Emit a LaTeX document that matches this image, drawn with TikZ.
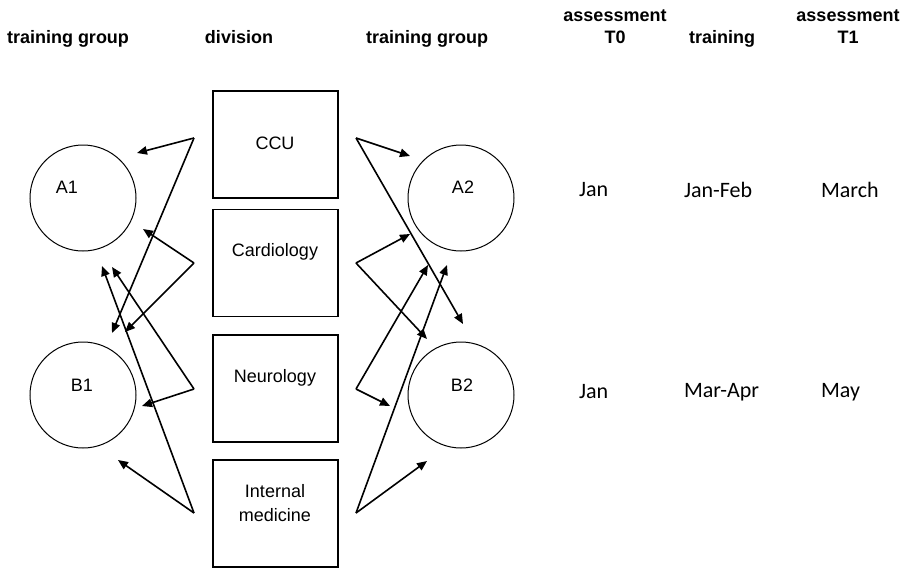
\documentclass[tikz,border=0pt]{standalone}
\usepackage{fontspec}
\setmainfont{Liberation Sans}
\newfontfamily\calibri{Carlito}
\usetikzlibrary{arrows.meta}

\begin{document}
\begin{tikzpicture}[x=0.5pt, y=-0.5pt, >={Triangle[length=5pt,width=4.2pt]},
		font=\fontsize{9}{12}\selectfont,
		head/.style={font=\fontsize{9}{11}\selectfont\bfseries, align=center, anchor=base},
		division/.style={draw, line width=0.6pt, minimum width=62.5pt, minimum height=53.5pt, inner sep=0pt},
		group/.style={draw, circle, line width=0.5pt, minimum size=53pt, inner sep=0pt},
		month/.style={font=\calibri\fontsize{11}{13}\selectfont, anchor=west},
		link/.style={->, line width=0.8pt}]
		\useasboundingbox (0,0) rectangle (904,568);
		
		% column heads
		\node[head] (h1) at (68,43) {training group};
		\node[head] (h2) at (239,43) {division};
		\node[head] (h3) at (427,43) {training group};
		\node[head] (h4) at (615,43) {assessment\\T0};
		\node[head] (h5) at (722,43) {training};
		\node[head] (h6) at (848,43) {assessment\\T1};
		
		% divisions
		\node[division] (ccu) at (275.5,144.5) {};
		\node[division] (card) at (275.5,263) {};
		\node[division] (neuro) at (275.5,388.5) {};
		\node[division] (intmed) at (275.5,513.5) {};
		\node (ccu-t) at (275,143) {CCU};
		\node (card-t) at (275,252) {Cardiology};
		\node (neuro-t) at (275,378) {Neurology};
		\node[align=center] (intmed-t) at (275,503) {Internal\\medicine};
		
		% training groups
		\node[group] (A1) at (83,198) {};
		\node[group] (B1) at (83,395) {};
		\node[group] (A2) at (461,198) {};
		\node[group] (B2) at (461,395) {};
		\node (A1-t) at (67,187) {A1};
		\node (B1-t) at (82,385) {B1};
		\node (A2-t) at (463,187) {A2};
		\node (B2-t) at (462,385) {B2};
		
		% where the arrows start
		\coordinate (ccu-l) at (194,138);
		\coordinate (card-l) at (194,263);
		\coordinate (neuro-l) at (194,389);
		\coordinate (intmed-l) at (194,513);
		\coordinate (ccu-r) at (356,138);
		\coordinate (card-r) at (356,263);
		\coordinate (neuro-r) at (356,389);
		\coordinate (intmed-r) at (356,513);
		
		% where the arrows end
		\coordinate (a1-1) at (137,153);
		\coordinate (a1-2) at (143,229);
		\coordinate (a1-3) at (112,267);
		\coordinate (a1-4) at (102,266);
		\coordinate (b1-1) at (112,333);
		\coordinate (b1-2) at (125,332);
		\coordinate (b1-3) at (142,406);
		\coordinate (b1-4) at (118,460);
		\coordinate (a2-1) at (410,156);
		\coordinate (a2-2) at (410,234);
		\coordinate (a2-3) at (428,265);
		\coordinate (a2-4) at (447,265);
		\coordinate (b2-1) at (463,324);
		\coordinate (b2-2) at (427,339);
		\coordinate (b2-3) at (390,406);
		\coordinate (b2-4) at (427,461);
		
		% left arrows
		\draw[link] (ccu-l) -- (a1-1);
		\draw[link] (ccu-l) -- (b1-1);
		\draw[link] (card-l) -- (a1-2);
		\draw[link] (card-l) -- (b1-2);
		\draw[link] (neuro-l) -- (b1-3);
		\draw[link] (neuro-l) -- (a1-3);
		\draw[link] (intmed-l) -- (b1-4);
		\draw[link] (intmed-l) -- (a1-4);
		
		% right arrows
		\draw[link] (ccu-r) -- (a2-1);
		\draw[link] (ccu-r) -- (b2-1);
		\draw[link] (card-r) -- (a2-2);
		\draw[link] (card-r) -- (b2-2);
		\draw[link] (neuro-r) -- (b2-3);
		\draw[link] (neuro-r) -- (a2-3);
		\draw[link] (intmed-r) -- (b2-4);
		\draw[link] (intmed-r) -- (a2-4);
		
		% months
		\node[month] (t0a) at (572,190) {Jan};
		\node[month] (tra) at (677,190) {Jan-Feb};
		\node[month] (t1a) at (814,190) {March};
		\node[month] (t0b) at (572,392) {Jan};
		\node[month] (trb) at (677,392) {Mar-Apr};
		\node[month] (t1b) at (814,392) {May};
	\end{tikzpicture}
\end{document}
